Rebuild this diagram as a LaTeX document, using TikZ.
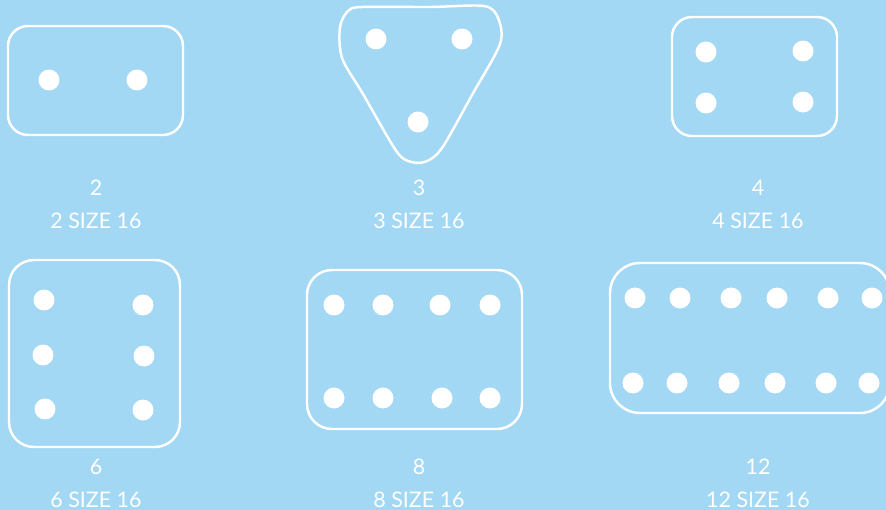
\documentclass[tikz,border=0pt]{standalone}
\usepackage{fontspec}
\setmainfont{Lato}
\usepackage{xcolor}
\usetikzlibrary{positioning}
\definecolor{skyback}{RGB}{163,216,244}

\begin{document}
\begin{tikzpicture}[
  x=0.02cm, y=-0.02cm,
  plate/.style={draw=white, line width=1.4pt, rounded corners=#1},
  plate/.default=0.4cm,
  pin/.style={circle, fill=white, inner sep=0pt, minimum width=0.4cm, minimum height=0.42cm},
  lbl/.style={text=white, font=\fontsize{12.2}{15}\selectfont, inner sep=0pt},
]
  \fill[skyback] (0,0) rectangle (886,510);
  \useasboundingbox (0,0) rectangle (886,510);

  % two pins
  \draw[plate] (8,26) rectangle (183,135);
  \node[pin] (p2a) at (49,80) {};
  \node[pin] (p2b) at (137,80) {};
  \node[lbl] (n2) at (96,188) {2};
  \node[lbl, below=0.65cm of n2.center, anchor=center] (s2) {2 SIZE 16};

  % three pins
  \draw[draw=white, line width=1.4pt] plot[smooth cycle, tension=0.5] coordinates {
    (362,7) (430,7) (484,6) (498,18) (500,44) (472,95) (444,145)
    (431,159) (418,163) (404,159) (393,146) (363,94) (342,58) (340,27) (348,11)};
  \node[pin] (p3a) at (376,39) {};
  \node[pin] (p3b) at (462,39) {};
  \node[pin] (p3c) at (418,122) {};
  \node[lbl] (n3) at (419,188) {3};
  \node[lbl, below=0.65cm of n3.center, anchor=center] (s3) {3 SIZE 16};

  % four pins
  \draw[plate] (672,17) rectangle (837,136);
  \node[pin] (p4a) at (706,52) {};
  \node[pin] (p4b) at (803,51) {};
  \node[pin] (p4c) at (706,103) {};
  \node[pin] (p4d) at (803,102) {};
  \node[lbl] (n4) at (758,188) {4};
  \node[lbl, below=0.65cm of n4.center, anchor=center] (s4) {4 SIZE 16};

  % six pins
  \draw[plate=0.5cm] (9,260) rectangle (180,447);
  \node[pin] (p6a) at (44,300) {};
  \node[pin] (p6b) at (143,305) {};
  \node[pin] (p6c) at (43,355) {};
  \node[pin] (p6d) at (144,356) {};
  \node[pin] (p6e) at (45,409) {};
  \node[pin] (p6f) at (143,410) {};
  \node[lbl] (n6) at (96,467) {6};
  \node[lbl, below=0.65cm of n6.center, anchor=center] (s6) {6 SIZE 16};

  % eight pins
  \draw[plate=0.5cm] (307,270) rectangle (522,429);
  \foreach \px [count=\i] in {334,383,440,490}
    \node[pin] (p8t\i) at (\px,305) {};
  \foreach \px [count=\i] in {334,383,442,490}
    \node[pin] (p8b\i) at (\px,398) {};
  \node[lbl] (n8) at (419,467) {8};
  \node[lbl, below=0.65cm of n8.center, anchor=center] (s8) {8 SIZE 16};

  % twelve pins
  \draw[plate=0.6cm] (610,263) rectangle (890,413);
  \foreach \px [count=\i] in {635,680,731,777,828,872}
    \node[pin] (p12t\i) at (\px,298) {};
  \foreach \px [count=\i] in {633,677,729,775,826,869}
    \node[pin] (p12b\i) at (\px,383) {};
  \node[lbl] (n12) at (758,467) {12};
  \node[lbl, below=0.65cm of n12.center, anchor=center] (s12) {12 SIZE 16};
\end{tikzpicture}
\end{document}
